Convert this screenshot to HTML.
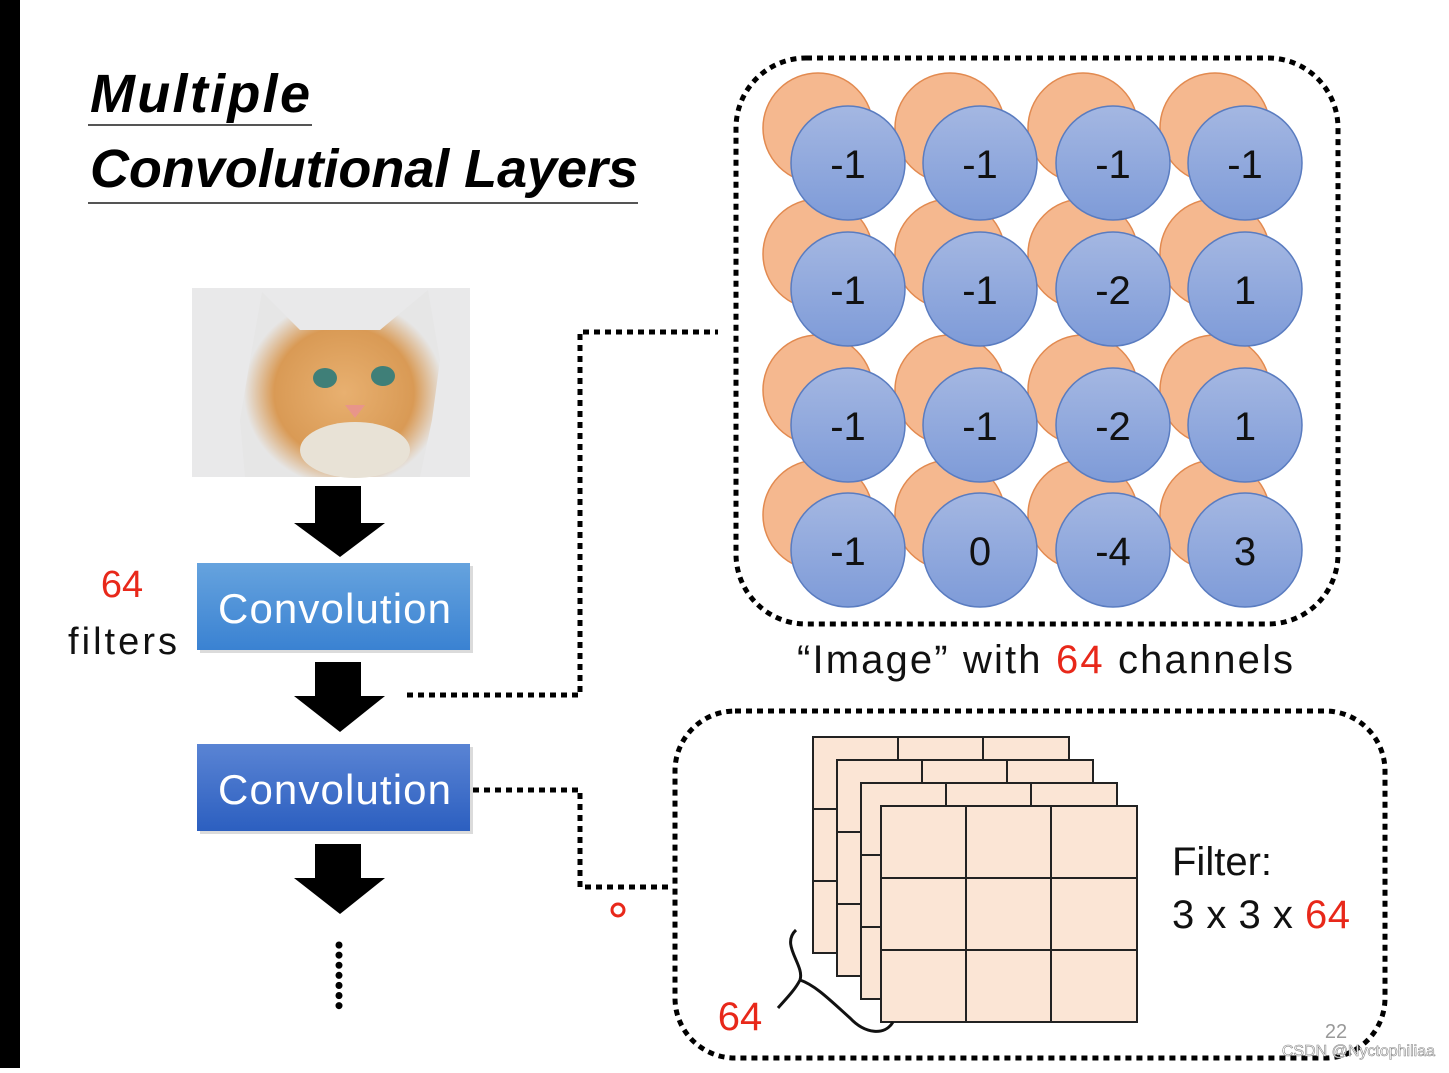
<!DOCTYPE html>
<html><head><meta charset="utf-8"><style>
html,body{margin:0;padding:0;background:#fff;}
body{width:1449px;height:1068px;overflow:hidden;position:relative;font-family:"Liberation Sans",sans-serif;}
</style></head><body>
<svg width="1449" height="1068" viewBox="0 0 1449 1068" xmlns="http://www.w3.org/2000/svg">
<defs>
<linearGradient id="c1" x1="0" y1="0" x2="0" y2="1"><stop offset="0" stop-color="#66a3de"/><stop offset="1" stop-color="#3a82d2"/></linearGradient>
<linearGradient id="c2" x1="0" y1="0" x2="0" y2="1"><stop offset="0" stop-color="#5a84d4"/><stop offset="1" stop-color="#2c5fc0"/></linearGradient>
<linearGradient id="bl" x1="0" y1="0" x2="0" y2="1"><stop offset="0" stop-color="#a4b7e2"/><stop offset="1" stop-color="#7e9bd8"/></linearGradient>
<radialGradient id="cat" cx="0.52" cy="0.55" r="0.5"><stop offset="0" stop-color="#e8b070"/><stop offset="0.7" stop-color="#d99a55"/><stop offset="1" stop-color="#e6e6e6"/></radialGradient>
</defs>
<rect x="0" y="0" width="20" height="1068" fill="#000"/>
<text x="90" y="112" font-family="Liberation Sans" font-weight="bold" font-style="italic" font-size="54" fill="#000" textLength="220">Multiple</text>
<line x1="88" y1="125" x2="312" y2="125" stroke="#555" stroke-width="2"/>
<text x="90" y="187" font-family="Liberation Sans" font-weight="bold" font-style="italic" font-size="54" fill="#000" textLength="548">Convolutional Layers</text>
<line x1="88" y1="203" x2="638" y2="203" stroke="#555" stroke-width="2"/>
<rect x="192" y="288" width="278" height="189" fill="#e9e9ea"/>
<path d="M262 292 L300 330 L380 330 L428 290 L440 360 L432 420 L420 477 L245 477 L240 420 L250 360 Z" fill="url(#cat)"/>
<ellipse cx="325" cy="378" rx="12" ry="10" fill="#3f7f78"/>
<ellipse cx="383" cy="376" rx="12" ry="10" fill="#3f7f78"/>
<path d="M345 405 L365 405 L355 418 Z" fill="#e8958a"/>
<ellipse cx="355" cy="450" rx="55" ry="28" fill="#e8e2d6"/>
<g fill="#000">
<path d="M315 486 H361 V523 H385 L340 557 L294 523 H315 Z"/>
<path d="M315 662 H361 V696 H385 L340 732 L294 696 H315 Z"/>
<path d="M315 844 H361 V878 H385 L340 914 L294 878 H315 Z"/>
</g>
<line x1="339" y1="945" x2="339" y2="1015" stroke="#000" stroke-width="7" stroke-dasharray="0.1 10" stroke-linecap="round"/>
<rect x="200" y="566" width="273" height="87" fill="#999" opacity="0.35"/>
<rect x="197" y="563" width="273" height="87" fill="url(#c1)"/>
<text x="218" y="623" font-size="42" fill="#fff" textLength="233">Convolution</text>
<rect x="200" y="747" width="273" height="87" fill="#999" opacity="0.35"/>
<rect x="197" y="744" width="273" height="87" fill="url(#c2)"/>
<text x="218" y="804" font-size="42" fill="#fff" textLength="233">Convolution</text>
<text x="122" y="597" text-anchor="middle" font-size="38" fill="#e8281a">64</text>
<text x="68" y="654" font-size="38" fill="#111" textLength="109">filters</text>
<g fill="none" stroke="#000" stroke-width="5" stroke-dasharray="6 5">
<path d="M407 695 H580 V332 H718"/>
<path d="M473 790 H580 V887 H672"/>
<rect x="736" y="58" width="602" height="566" rx="70"/>
<rect x="675" y="711" width="710" height="347" rx="60"/>
</g>
<circle cx="618" cy="910" r="6" fill="none" stroke="#e8281a" stroke-width="3"/>
<g stroke-width="1.5">
<g fill="#f5b88f" stroke="#e28a50">
<circle cx="818" cy="128" r="55"/><circle cx="950" cy="128" r="55"/><circle cx="1083" cy="128" r="55"/><circle cx="1215" cy="128" r="55"/>
<circle cx="818" cy="254" r="55"/><circle cx="950" cy="254" r="55"/><circle cx="1083" cy="254" r="55"/><circle cx="1215" cy="254" r="55"/>
<circle cx="818" cy="390" r="55"/><circle cx="950" cy="390" r="55"/><circle cx="1083" cy="390" r="55"/><circle cx="1215" cy="390" r="55"/>
<circle cx="818" cy="515" r="55"/><circle cx="950" cy="515" r="55"/><circle cx="1083" cy="515" r="55"/><circle cx="1215" cy="515" r="55"/>
</g>
<g fill="url(#bl)" stroke="#5a7cc0">
<circle cx="848" cy="163" r="57"/><circle cx="980" cy="163" r="57"/><circle cx="1113" cy="163" r="57"/><circle cx="1245" cy="163" r="57"/>
<circle cx="848" cy="289" r="57"/><circle cx="980" cy="289" r="57"/><circle cx="1113" cy="289" r="57"/><circle cx="1245" cy="289" r="57"/>
<circle cx="848" cy="425" r="57"/><circle cx="980" cy="425" r="57"/><circle cx="1113" cy="425" r="57"/><circle cx="1245" cy="425" r="57"/>
<circle cx="848" cy="550" r="57"/><circle cx="980" cy="550" r="57"/><circle cx="1113" cy="550" r="57"/><circle cx="1245" cy="550" r="57"/>
</g>
</g>
<g font-size="40" fill="#111" text-anchor="middle">
<text x="848" y="178">-1</text><text x="980" y="178">-1</text><text x="1113" y="178">-1</text><text x="1245" y="178">-1</text>
<text x="848" y="304">-1</text><text x="980" y="304">-1</text><text x="1113" y="304">-2</text><text x="1245" y="304">1</text>
<text x="848" y="440">-1</text><text x="980" y="440">-1</text><text x="1113" y="440">-2</text><text x="1245" y="440">1</text>
<text x="848" y="565">-1</text><text x="980" y="565">0</text><text x="1113" y="565">-4</text><text x="1245" y="565">3</text>
</g>
<text x="797" y="673" font-size="40" fill="#111" textLength="496">“Image” with <tspan fill="#e8281a">64</tspan> channels</text>
<g fill="#fbe5d5" stroke="#222" stroke-width="2">
<g transform="translate(813,737)"><rect width="256" height="216"/><path d="M85 0V216M170 0V216M0 72H256M0 144H256" fill="none"/></g>
<g transform="translate(837,760)"><rect width="256" height="216"/><path d="M85 0V216M170 0V216M0 72H256M0 144H256" fill="none"/></g>
<g transform="translate(861,783)"><rect width="256" height="216"/><path d="M85 0V216M170 0V216M0 72H256M0 144H256" fill="none"/></g>
<g transform="translate(881,806)"><rect width="256" height="216"/><path d="M85 0V216M170 0V216M0 72H256M0 144H256" fill="none"/></g>
</g>
<path d="M796 930 C780 945 805 965 800 980 C795 990 785 1000 778 1008 M800 980 C815 985 830 1000 850 1018 C865 1034 885 1036 893 1022" fill="none" stroke="#111" stroke-width="3"/>
<text x="740" y="1030" text-anchor="middle" font-size="40" fill="#e8281a">64</text>
<text x="1172" y="875" font-size="40" fill="#111">Filter:</text>
<text x="1172" y="928" font-size="40" fill="#111" textLength="178">3 x 3 x <tspan fill="#e8281a">64</tspan></text>
<text x="1336" y="1038" text-anchor="middle" font-size="20" fill="#999">22</text>
<text x="1435" y="1056" text-anchor="end" font-size="16" fill="#fff" stroke="#888" stroke-width="0.6">CSDN @Nyctophiliaa</text>
</svg>
</body></html>
